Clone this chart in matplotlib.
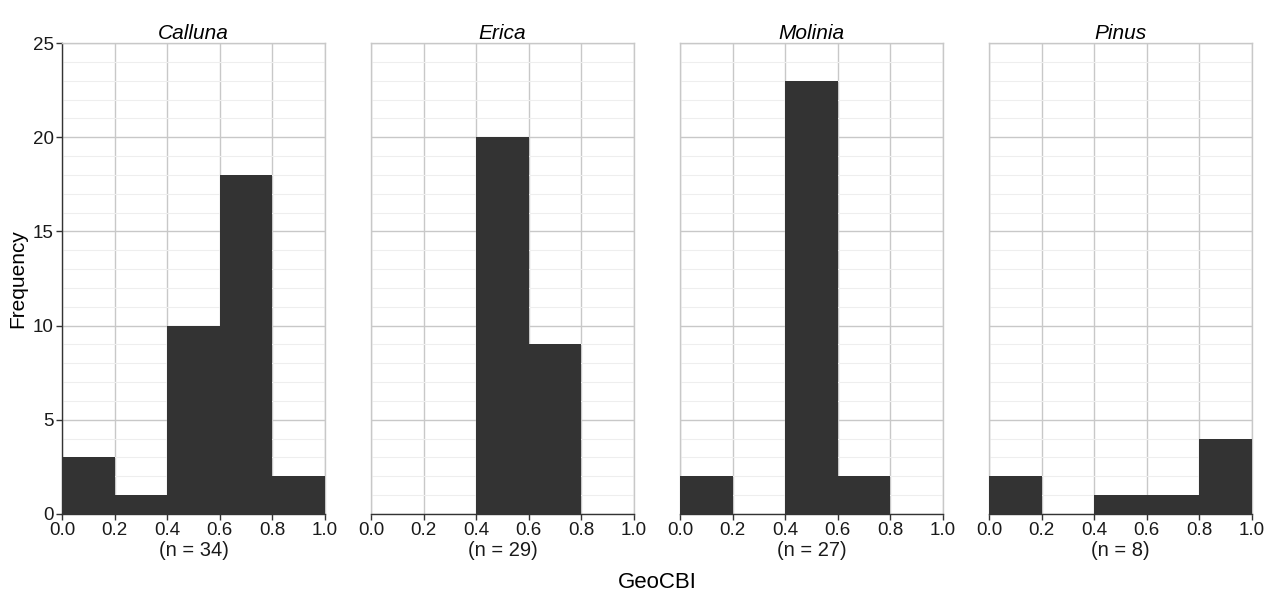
import matplotlib
matplotlib.use("Agg")
import matplotlib.pyplot as plt
import numpy as np

plt.rcParams['font.family'] = ['Liberation Sans', 'DejaVu Sans']

species = ['Calluna', 'Erica', 'Molinia', 'Pinus']
bin_edges = [0.0, 0.2, 0.4, 0.6, 0.8, 1.0]
counts_calluna = [3, 1, 10, 18, 2]
counts_erica = [0, 0, 20, 9, 0]
counts_molinia = [2, 0, 23, 2, 0]
counts_pinus = [2, 0, 1, 1, 4]
sample_sizes = [34, 29, 27, 8]

all_counts = [counts_calluna, counts_erica, counts_molinia, counts_pinus]

fig = plt.figure(figsize=(12.65, 5.91), dpi=100)

left0 = 62 / 1265
width = 263 / 1265
step = 309 / 1265
bottom = 77 / 591
height = 471 / 591

edges = np.array(bin_edges)
widths = np.diff(edges)

for i, (name, counts) in enumerate(zip(species, all_counts)):
    ax = fig.add_axes([left0 + i * step, bottom, width, height])
    ax.bar(edges[:-1], counts, width=widths, align='edge',
           color='#333333', edgecolor='none', zorder=3)

    ax.set_xlim(0, 1)
    ax.set_ylim(0, 25)
    ax.set_xticks(bin_edges)
    ax.set_xticklabels([f"{v:.1f}" for v in bin_edges])
    ax.set_yticks([0, 5, 10, 15, 20, 25])
    ax.set_yticks(np.arange(0, 26, 1), minor=True)

    ax.grid(which='major', color='#c8c8c8', linewidth=1.0, zorder=0)
    ax.grid(which='minor', axis='y', color='#eeeeee', linewidth=0.8, zorder=0)
    ax.set_axisbelow(True)

    for side in ['top', 'right', 'left']:
        ax.spines[side].set_color('#c8c8c8')
        ax.spines[side].set_linewidth(1.0)
    ax.spines['bottom'].set_color('#333333')
    ax.spines['bottom'].set_linewidth(1.0)

    ax.tick_params(axis='x', which='major', length=4, width=1,
                   color='#333333', labelsize=13.5, labelcolor='#1a1a1a', pad=2)
    ax.tick_params(axis='y', which='minor', length=0)

    if i == 0:
        ax.spines['left'].set_color('#333333')
        ax.tick_params(axis='y', which='major', length=4, width=1,
                       color='#333333', labelsize=13.5, labelcolor='#1a1a1a', pad=2)
        ax.set_ylabel('Frequency', fontsize=15, labelpad=4)
    else:
        ax.tick_params(axis='y', which='major', length=0, labelleft=False)

    ax.set_title(name, fontsize=15, style='italic', pad=3)
    ax.set_xlabel(f"(n = {sample_sizes[i]})", fontsize=14.5, labelpad=1,
                  color='#1a1a1a')

fig.text(657 / 1265, 1 - 582 / 591, 'GeoCBI', ha='center', va='center',
         fontsize=16)

fig.savefig('out.png', dpi=100)
